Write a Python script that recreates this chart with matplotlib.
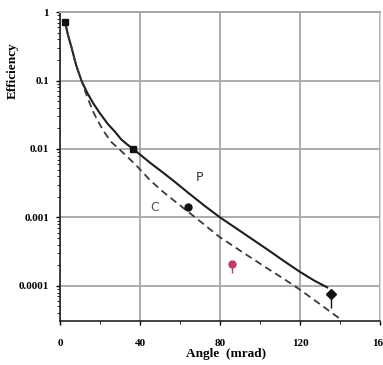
import matplotlib
matplotlib.use('Agg')
import matplotlib.pyplot as plt
from matplotlib.ticker import LogLocator, FixedLocator, NullFormatter

plt.rcParams['font.family'] = 'serif'
plt.rcParams['font.serif'] = ['Liberation Serif', 'DejaVu Serif']

# curve P (solid)
p_angle = [2.5, 4, 5.8, 8, 10.7, 13.5, 16.5, 20, 24, 27.5, 30.7, 33.5, 36.5, 40, 45,
           52, 58, 64, 72, 80, 92, 105, 112, 120, 127, 133.6]
p_eff = [0.72, 0.46, 0.30, 0.17, 0.10, 0.067, 0.047, 0.033, 0.023, 0.0178, 0.0137, 0.0117,
         0.010, 0.0083, 0.0063, 0.0044, 0.0032, 0.0023, 0.0015, 0.0010, 5.8e-4, 3.2e-4,
         2.3e-4, 1.6e-4, 1.2e-4, 9.5e-5]

# curve C (dashed)
c_angle = [2.5, 4, 5.8, 8, 10.7, 12.7, 14.8, 17, 19.8, 22.5, 25.7, 29.5, 33, 38, 45,
           52, 60, 70, 79.7, 92, 105, 112, 120, 130, 140]
c_eff = [0.72, 0.46, 0.30, 0.17, 0.10, 0.068, 0.047, 0.033, 0.023, 0.017, 0.0126, 0.010,
         0.0080, 0.0058, 0.0035, 0.0023, 0.0015, 8.8e-4, 5.2e-4, 3.0e-4, 1.7e-4,
         1.26e-4, 8.8e-5, 5.4e-5, 3.3e-5]

# measured points
sq_angle = [2.5, 36.5]
sq_eff = [0.72, 0.010]
dot_angle = [64]
dot_eff = [0.00144]
red_angle = [86]
red_eff = [2.1e-4]
red_lo = [0.55e-4]
dia_angle = [135.6]
dia_eff = [7.6e-5]
dia_lo = [2.8e-5]

x_ticks = [0, 40, 80, 120, 160]
y_ticks = [1, 0.1, 0.01, 0.001, 0.0001]
y_labels = ['1', '0.1', '0.01', '0.001', '0.0001']

fig = plt.figure(figsize=(3.83, 3.65), dpi=100)
ax = fig.add_axes([0.1567, 0.1214, 0.8355, 0.8456])
ax.set_yscale('log')
ax.set_xlim(0, 160)
ax.set_ylim(3.1e-5, 1)

ax.grid(True, which='major', color='#a6a6a6', linewidth=1.3)
ax.set_axisbelow(True)

ax.plot(p_angle, p_eff, color='#1e1e1e', linewidth=1.5, zorder=3)
ax.plot(c_angle, c_eff, color='#3a3a3a', linewidth=1.3, linestyle=(0, (4, 2.5)), zorder=3)

ax.plot(sq_angle, sq_eff, 's', color='#111111', markersize=4, zorder=4)
ax.plot(dot_angle, dot_eff, 'o', color='#111111', markersize=5, zorder=4)
ax.errorbar(red_angle, red_eff, yerr=[red_lo, [0]], fmt='o', color='#c23a6a',
            markersize=5, elinewidth=1, capsize=0, zorder=4)
ax.errorbar(dia_angle, dia_eff, yerr=[dia_lo, [0]], fmt='D', color='#111111',
            markersize=5, elinewidth=1, capsize=0, zorder=4)

ax.text(69.7, 0.0038, 'P', fontsize=9, family='DejaVu Sans', color='#333333',
        ha='center', va='center')
ax.text(47.5, 0.0014, 'C', fontsize=9, family='DejaVu Sans', color='#555555',
        ha='center', va='center')

ax.set_xticks(x_ticks)
ax.set_xticklabels([str(v) for v in x_ticks], fontsize=8, fontweight='bold')
ax.xaxis.set_minor_locator(FixedLocator([20, 60, 100, 140]))
ax.set_yticks(y_ticks)
ax.set_yticklabels(y_labels, fontsize=8, fontweight='bold')
ax.yaxis.set_minor_locator(LogLocator(base=10, subs=range(2, 10)))
ax.yaxis.set_minor_formatter(NullFormatter())
ax.tick_params(axis='both', which='major', direction='out', length=3, width=1, pad=5)
ax.tick_params(axis='both', which='minor', direction='out', length=2, width=0.6)
ax.tick_params(axis='x', which='major', pad=10)

for s in ['left', 'bottom']:
    ax.spines[s].set_color('#222222')
    ax.spines[s].set_linewidth(1.2)
ax.spines['top'].set_color('#a6a6a6')
ax.spines['top'].set_linewidth(1.4)
ax.spines['right'].set_color('#dddddd')

ax.set_xlabel('Angle  (mrad)', fontsize=9.5, fontweight='bold')
ax.xaxis.set_label_coords(0.52, -0.088)
ax.set_ylabel('Efficiency', fontsize=9.5, fontweight='bold')
ax.yaxis.set_label_coords(-0.13, 0.81)

fig.savefig('out.png', dpi=100)
